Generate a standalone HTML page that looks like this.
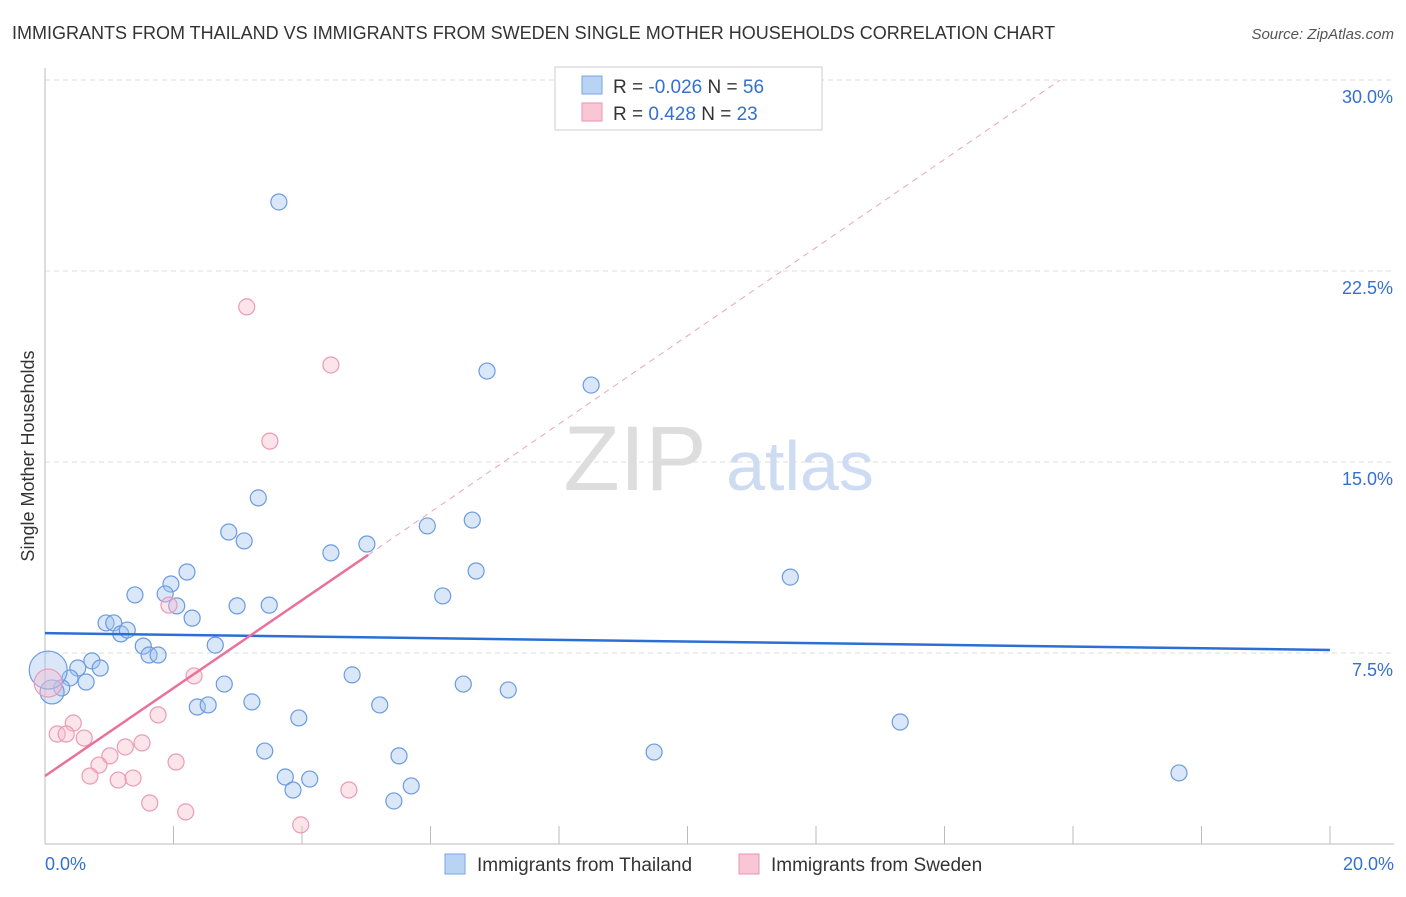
<!DOCTYPE html>
<html><head><meta charset="utf-8">
<style>
body{margin:0;background:#fff;font-family:"Liberation Sans",sans-serif;}
svg text{font-family:"Liberation Sans",sans-serif;}
</style></head>
<body>
<svg id="chart" width="1406" height="892" xmlns="http://www.w3.org/2000/svg">
<text x="12" y="39" font-size="18" fill="#333">IMMIGRANTS FROM THAILAND VS IMMIGRANTS FROM SWEDEN SINGLE MOTHER HOUSEHOLDS CORRELATION CHART</text>
<text x="1394" y="39" font-size="15" fill="#555" text-anchor="end" font-style="italic">Source: ZipAtlas.com</text>
<text transform="translate(34,456) rotate(-90)" font-size="18" fill="#333" text-anchor="middle">Single Mother Households</text>
<g>
<text x="635" y="490" font-size="92" fill="#ddd" text-anchor="middle" font-family="Liberation Serif">ZIP</text>
<text x="800" y="490" font-size="70" fill="#cddcf2" text-anchor="middle">atlas</text>
</g>
<g id="grid"></g>
<g id="marks"></g>
<g>
<rect x="555" y="67" width="267" height="63" fill="#fff" stroke="#ccc"/>
<rect x="582" y="76" width="20" height="18" fill="#b9d3f5" stroke="#7aa6e0"/>
<rect x="582" y="103" width="20" height="18" fill="#f9c6d6" stroke="#eb93b0"/>
<text x="613" y="93" font-size="19" fill="#333">R = <tspan fill="#3470d0">-0.026</tspan>   N = <tspan fill="#3470d0">56</tspan></text>
<text x="613" y="120" font-size="19" fill="#333">R =   <tspan fill="#3470d0">0.428</tspan>   N = <tspan fill="#3470d0">23</tspan></text>
</g>
<g>
<rect x="445" y="854" width="20" height="20" fill="#b9d3f5" stroke="#7aa6e0"/>
<text x="477" y="871" font-size="19" fill="#333">Immigrants from Thailand</text>
<rect x="739" y="854" width="20" height="20" fill="#f9c6d6" stroke="#eb93b0"/>
<text x="771" y="871" font-size="19" fill="#333">Immigrants from Sweden</text>
</g>
</svg>
<script>
const yTicks=[7.5,15,22.5,30];
const yTickLabels=["7.5%","15.0%","22.5%","30.0%"];
const xTickVals=[0,2,4,6,8,10,12,14,16,18,20];
const xEndLabels=["0.0%","20.0%"];
const thaiX=[3.64,6.88,8.50,3.32,2.86,3.10,5.01,4.45,5.95,6.65,6.71,11.60,2.21,1.96,1.40,1.87,2.05,2.29,2.99,3.49,6.19,0.95,1.07,1.18,1.28,1.53,1.62,1.76,2.65,0.73,0.51,0.86,0.39,0.64,0.26,0.11,0.05,2.79,4.78,6.51,7.21,2.37,2.54,3.22,3.95,5.21,13.31,3.42,5.51,9.48,3.74,4.12,3.86,5.70,5.43,17.65];
const thaiY=[25.21,18.57,18.02,13.59,12.25,11.90,11.78,11.43,12.49,12.72,10.72,10.48,10.68,10.21,9.78,9.82,9.35,8.87,9.35,9.38,9.74,8.68,8.68,8.25,8.40,7.77,7.42,7.42,7.81,7.19,6.91,6.91,6.52,6.36,6.13,5.97,6.83,6.28,6.64,6.28,6.05,5.38,5.46,5.58,4.95,5.46,4.79,3.65,3.46,3.61,2.63,2.55,2.12,2.28,1.69,2.79];
const thaiSize=[8,8,8,8,8,8,8,8,8,8,8,8,8,8,8,8,8,8,8,8,8,8,8,8,8,8,8,8,8,8,8,8,8,8,8,12,19,8,8,8,8,8,8,8,8,8,8,8,8,8,8,8,8,8,8,8];
const swedX=[3.14,4.45,3.50,1.93,2.32,1.76,0.44,0.19,0.33,0.61,1.25,1.51,1.01,0.84,2.04,0.70,1.14,1.37,1.63,2.19,4.73,3.98,0.05];
const swedY=[21.09,18.81,15.82,9.38,6.60,5.07,4.75,4.32,4.32,4.16,3.81,3.97,3.46,3.10,3.22,2.67,2.51,2.59,1.61,1.26,2.12,0.75,6.32];
const swedSize=[8,8,8,8,8,8,8,8,8,8,8,8,8,8,8,8,8,8,8,8,8,8,14];
const thaiLine=[[0,8.28],[20,7.62]];
const swedLine=[[0,2.67],[5.03,11.35]];
const swedDash=[[5.03,11.35],[15.8,30]];
const NS="http://www.w3.org/2000/svg";
function sx(v){return 45+v*64.25;}
function sy(v){return 844-v*25.467;}
function mk(tag,attrs,parent){const e=document.createElementNS(NS,tag);for(const k in attrs)e.setAttribute(k,attrs[k]);parent.appendChild(e);return e;}
const grid=document.getElementById('grid'),marks=document.getElementById('marks');
yTicks.forEach((t,i)=>{
 const l=mk('line',{x1:45,x2:1394,y1:sy(t),y2:sy(t),stroke:'#ddd','stroke-dasharray':'5,4'},grid);
 
 
 const tx=mk('text',{x:1393,y:sy(t)+23,'font-size':18,fill:'#3470d0','text-anchor':'end'},grid);
 tx.textContent=yTickLabels[i];
 
 
});
const ax=mk('line',{x1:45,x2:45,y1:68,y2:844,stroke:'#bbb'},grid);


const bx=mk('line',{x1:45,x2:1394,y1:844,y2:844,stroke:'#bbb'},grid);


xTickVals.forEach(t=>{
 const l=mk('line',{x1:sx(t),x2:sx(t),y1:826,y2:844,stroke:'#bbb'},grid);
 
 
});
[[0,'start',45],[20,'end',1394]].forEach((d,i)=>{
 const tx=mk('text',{x:d[2],y:870,'font-size':18,fill:'#3470d0','text-anchor':d[1]},grid);
 tx.textContent=xEndLabels[i];
 
 
});
thaiX.forEach((x,i)=>{
 const c=mk('circle',{cx:sx(x),cy:sy(thaiY[i]),r:thaiSize[i],fill:'rgba(160,196,240,0.4)',stroke:'#6a9be0','stroke-width':1.2},marks);
 
 
});
swedX.forEach((x,i)=>{
 const c=mk('circle',{cx:sx(x),cy:sy(swedY[i]),r:swedSize[i],fill:'rgba(248,188,206,0.4)',stroke:'#eb9ab5','stroke-width':1.2},marks);
 
 
});
const dl=mk('line',{x1:sx(swedDash[0][0]),y1:sy(swedDash[0][1]),x2:sx(swedDash[1][0]),y2:sy(swedDash[1][1]),stroke:'#eaa5bb','stroke-dasharray':'6,5','stroke-width':1},marks);


const tl=mk('line',{x1:sx(thaiLine[0][0]),y1:sy(thaiLine[0][1]),x2:sx(thaiLine[1][0]),y2:sy(thaiLine[1][1]),stroke:'#2b6fd6','stroke-width':2.5},marks);


const sl=mk('line',{x1:sx(swedLine[0][0]),y1:sy(swedLine[0][1]),x2:sx(swedLine[1][0]),y2:sy(swedLine[1][1]),stroke:'#e8729a','stroke-width':2.5},marks);


</script>
</body></html>
